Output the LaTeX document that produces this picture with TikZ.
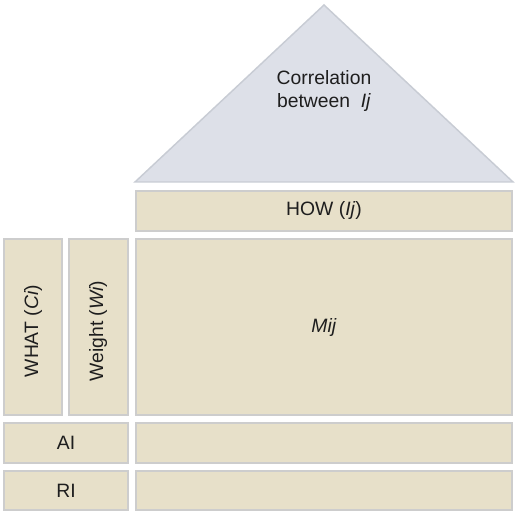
\documentclass[tikz,border=0pt]{standalone}
\usepackage{fontspec}
\setmainfont{Liberation Sans}
\definecolor{boxfill}{HTML}{E7E0C9}
\definecolor{boxline}{HTML}{CDCDCD}
\definecolor{roofill}{HTML}{DDE0E8}
\definecolor{roofline}{HTML}{C8CCD4}
\definecolor{ink}{HTML}{1E1E1E}
\tikzset{
  box/.style={fill=boxfill,draw=boxline,line width=1.1pt},
  roof/.style={fill=roofill,draw=roofline,line width=1.1pt,line join=miter},
  lbl/.style={text=ink,font=\fontsize{14.5}{17.5}\selectfont,align=center,inner sep=0pt}
}
\begin{document}
\begin{tikzpicture}[x=0.75pt,y=-0.75pt]
		\useasboundingbox (0,0) rectangle (520,516);
			\draw[roof] (135,182)--(324,5)--(513,182)--cycle;
			\node[lbl] (corr) at (324,91) {Correlation\\between \ \textit{Ij}};
			\draw[box] (136,191) rectangle (512,231);
			\node[lbl] (how) at (324,211) {HOW (\textit{Ij})};
			\draw[box] (136,239) rectangle (512,415);
			\node[lbl] (mij) at (324,327) {\textit{Mij}};
			\draw[box] (4,239) rectangle (62,415);
			\node[lbl,rotate=90] (what) at (33,331) {WHAT (\textit{Ci})};
			\draw[box] (69,239) rectangle (128,415);
			\node[lbl,rotate=90] (weight) at (98,331) {Weight (\textit{Wi})};
			\draw[box] (4,423) rectangle (128,463);
			\node[lbl] (ai) at (66,443) {AI};
			\draw[box] (136,423) rectangle (512,463);
			\draw[box] (4,471) rectangle (128,510);
			\node[lbl] (ri) at (66,490.5) {RI};
			\draw[box] (136,471) rectangle (512,510);
	\end{tikzpicture}
\end{document}
